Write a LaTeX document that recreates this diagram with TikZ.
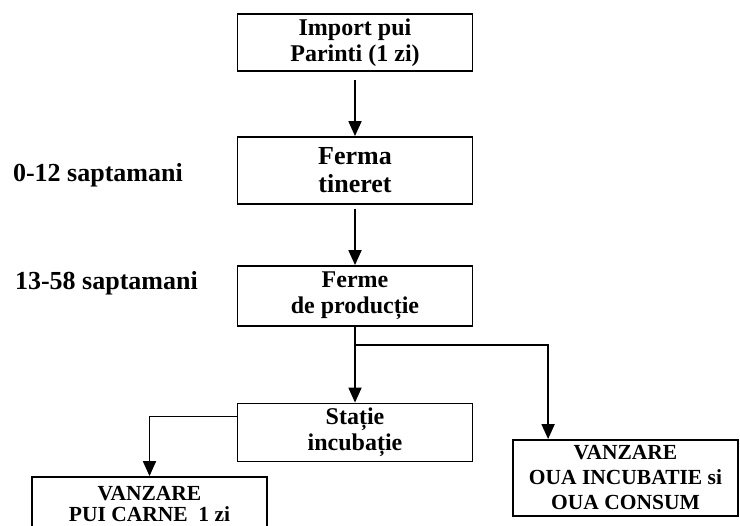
\documentclass[tikz,border=0pt]{standalone}
\usepackage{fontspec}
\setmainfont{Liberation Serif}
\usetikzlibrary{positioning,arrows.meta}
\tikzset{
	box/.style={draw, line width=1.8pt, minimum width=235pt, inner sep=0pt, align=center, font=\bfseries\fontsize{24}{26}\selectfont},
	lbl/.style={anchor=east, inner sep=0pt, font=\bfseries\fontsize{26}{28}\selectfont},
	tip/.style={-{Triangle[length=15pt,width=13pt]}, line width=1.8pt}
}

\begin{document}
\begin{tikzpicture}[x=1pt,y=-1pt,node distance=128pt,on grid]
\useasboundingbox (0,0) rectangle (740,526);
\node[box,minimum height=57pt]										(imp)	at (355,42.5)							{Import pui\\Parinti (1 zi)};
\node[box,minimum height=67pt,font=\bfseries\fontsize{26}{28}\selectfont]	(ferma)	[below=of imp]							{Ferma\\tineret};
\node[box,minimum height=60pt]										(ferme)	[below=125.5pt of ferma]				{Ferme\\de producție};
\node[box,minimum height=58pt]										(statie)	[below=136.5pt of ferme]				{Stație\\incubație};
\node[box,minimum width=225pt,minimum height=76pt,font=\bfseries\fontsize{21.5}{25}\selectfont]	(voua)	[below right=182pt and 270.5pt of ferme]	{VANZARE\\OUA INCUBATIE si\\OUA CONSUM};
\node[box,minimum height=54pt,font=\bfseries\fontsize{21.5}{21.5}\selectfont]	(vpui)	[below left=71.5pt and 205.5pt of statie]	{VANZARE\\PUI CARNE~~1 zi};

% varsta
\node[lbl]	(v1)	at (183,175)	{0-12 saptamani};
\node[lbl]	(v2)	at (198,283)	{13-58 saptamani};

\coordinate (split) at ([yshift=-18pt]ferme.south);
\draw[tip,shorten <=8pt]	(imp)		-- (ferma);
\draw[tip,shorten <=4pt]	(ferma)		-- (ferme);
\draw[tip]					(ferme)		-- (statie);
\draw[tip]					(split)		-| ([xshift=36pt]voua.north west);
\draw[tip]					([yshift=16pt]statie.west)	-| (vpui.north);
\end{tikzpicture}
\end{document}
